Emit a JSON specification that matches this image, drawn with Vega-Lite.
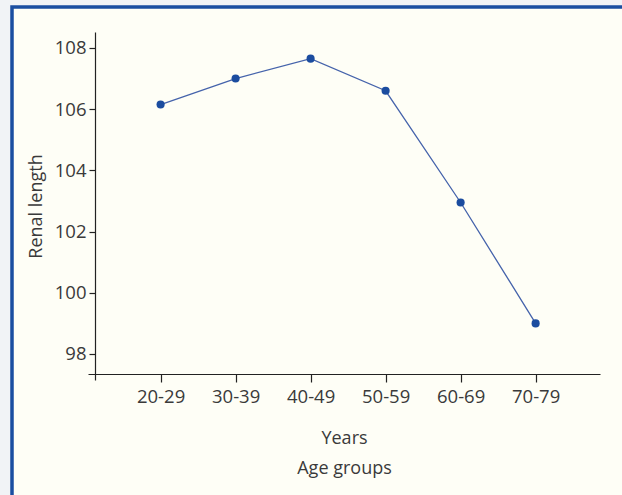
{
  "$schema": "https://vega.github.io/schema/vega-lite/v6.json",
  "width": 615,
  "height": 491,
  "autosize": {"type": "none"},
  "padding": {"left": 12, "top": 7, "right": 0, "bottom": 0},
  "background": "#f1f3f6",
  "config": {
    "view": {"stroke": "#1a4ea1", "strokeWidth": 3.5, "fill": "#fefef6"},
    "font": "Open Sans",
    "axis": {
      "grid": false,
      "domainColor": "#222222",
      "tickColor": "#222222",
      "labelColor": "#3a3a3a",
      "titleColor": "#3a3a3a",
      "labelFontSize": 18.5,
      "titleFontSize": 18,
      "titleFontWeight": "normal",
      "domainWidth": 1.2,
      "tickWidth": 1.2
    }
  },
  "data": {
    "values": [
      {"age": "20-29", "length": 106.15},
      {"age": "30-39", "length": 107.0},
      {"age": "40-49", "length": 107.65},
      {"age": "50-59", "length": 106.6},
      {"age": "60-69", "length": 102.95},
      {"age": "70-79", "length": 99.0}
    ]
  },
  "encoding": {
    "x": {
      "field": "age",
      "type": "ordinal",
      "sort": null,
      "scale": {"type": "point", "range": [76, 588], "padding": 0.913, "align": 0.53},
      "axis": {
        "title": ["Years", "Age groups"],
        "titleLineHeight": 30,
        "titlePadding": 24,
        "labelAngle": 0,
        "offset": -124,
        "tickSize": 8,
        "labelPadding": 5
      }
    },
    "y": {
      "field": "length",
      "type": "quantitative",
      "scale": {"domain": [97.15, 108.52], "range": [373, 25], "nice": false, "zero": false},
      "axis": {
        "title": "Renal length",
        "values": [98, 100, 102, 104, 106, 108],
        "offset": -83,
        "tickSize": 6,
        "labelPadding": 3,
        "titlePadding": 9
      }
    }
  },
  "layer": [
    {"mark": {"type": "line", "color": "#4563ab", "strokeWidth": 1.3}},
    {"mark": {"type": "point", "filled": true, "color": "#1b4c9f", "size": 66, "opacity": 1}}
  ]
}
